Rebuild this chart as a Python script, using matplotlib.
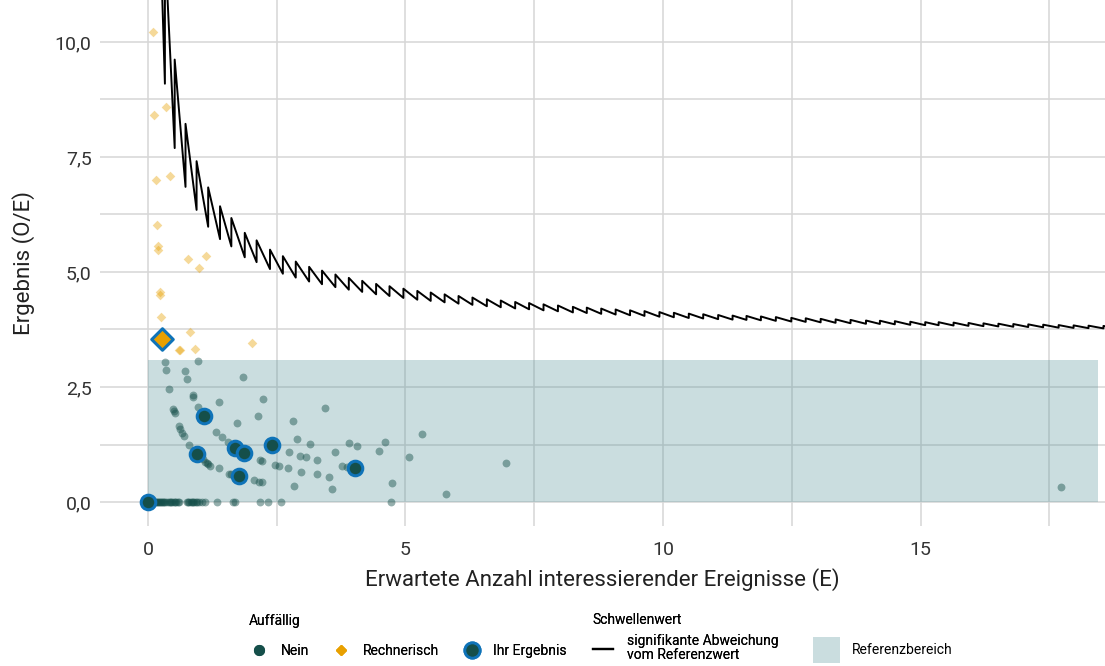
import numpy as np
import matplotlib
matplotlib.use("Agg")
import matplotlib.pyplot as plt
from matplotlib.lines import Line2D
from matplotlib.patches import Patch

plt.rcParams['font.family'] = ['Roboto', 'DejaVu Sans']

# --- data ---
# "Nein" points (E, O/E)
nein_E = [0.34, 0.36, 0.72, 0.98, 0.76, 0.41, 1.85, 0.87, 0.88, 1.38, 2.24, 0.97,
          0.49, 0.50, 0.52, 2.14, 1.73, 2.81, 3.44, 0.61, 0.63, 0.66, 0.70, 1.32,
          1.43, 1.55, 0.80, 2.90, 3.15, 3.91, 4.06, 4.60, 5.33, 4.48, 3.64, 2.74,
          2.95, 3.07, 3.28, 2.17, 2.22, 1.07, 1.11, 1.14, 1.17, 1.21, 1.38, 2.47,
          2.55, 2.71, 2.98, 3.29, 3.52, 3.77, 3.86, 5.06, 1.58, 1.62, 2.06, 2.16,
          2.22, 2.83, 3.58, 4.73, 5.78, 6.95, 17.73,
          0.05, 0.07, 0.10, 0.12, 0.13, 0.16, 0.18, 0.19, 0.22, 0.24, 0.25, 0.28,
          0.30, 0.31, 0.34, 0.37, 0.40, 0.43, 0.45, 0.47, 0.50, 0.52, 0.55, 0.58,
          0.60, 0.75, 0.78, 0.80, 0.83, 0.85, 0.88, 0.90, 0.93, 0.95, 1.00, 1.05,
          1.10, 1.35, 1.66, 1.69, 2.17, 2.34, 2.58, 4.72]
nein_OE = [3.04, 2.87, 2.85, 3.07, 2.67, 2.46, 2.71, 2.33, 2.29, 2.18, 2.23, 2.06,
           2.02, 1.98, 1.94, 1.87, 1.72, 1.77, 2.04, 1.66, 1.58, 1.50, 1.43, 1.53,
           1.41, 1.30, 1.24, 1.37, 1.26, 1.28, 1.22, 1.30, 1.49, 1.11, 1.09, 1.08,
           1.01, 0.97, 0.91, 0.91, 0.90, 0.93, 0.88, 0.84, 0.82, 0.79, 0.73, 0.80,
           0.78, 0.73, 0.66, 0.60, 0.55, 0.79, 0.77, 0.99, 0.62, 0.61, 0.48, 0.44,
           0.44, 0.35, 0.28, 0.42, 0.17, 0.85, 0.33,
           0, 0, 0, 0, 0, 0, 0, 0, 0, 0, 0, 0,
           0, 0, 0, 0, 0, 0, 0, 0, 0, 0, 0, 0,
           0, 0, 0, 0, 0, 0, 0, 0, 0, 0, 0, 0,
           0, 0, 0, 0, 0, 0, 0, 0]

# "Rechnerisch" points
rech_E = [0.10, 0.12, 0.36, 0.15, 0.43, 0.17, 0.19, 0.19, 0.77, 0.99, 1.13,
          0.23, 0.23, 0.25, 0.82, 2.03, 0.61, 0.62, 0.91]
rech_OE = [10.21, 8.41, 8.58, 6.99, 7.08, 6.02, 5.57, 5.48, 5.28, 5.09, 5.34,
           4.56, 4.49, 4.03, 3.70, 3.45, 3.30, 3.31, 3.32]

# "Ihr Ergebnis"
ihr_E = [0.0, 1.09, 0.96, 1.70, 1.86, 2.40, 1.77, 4.02]
ihr_OE = [0.0, 1.86, 1.04, 1.17, 1.07, 1.25, 0.57, 0.75]
ihr_rech_E = [0.28]
ihr_rech_OE = [3.54]

# threshold: expected E at each jump and critical count O after the jump
thr_E = [0.33, 0.52, 0.73, 0.945, 1.17, 1.40, 1.62, 1.88, 2.11, 2.37, 2.62, 2.87,
         3.13, 3.38, 3.64, 3.90, 4.16, 4.43, 4.69, 4.96, 5.23, 5.49, 5.76, 6.03,
         6.30, 6.58, 6.85, 7.13, 7.40, 7.68, 7.96, 8.25, 8.52, 8.80, 9.08, 9.36,
         9.64, 9.93, 10.21, 10.50, 10.78, 11.07, 11.35, 11.62, 11.90, 12.19, 12.49,
         12.77, 13.06, 13.35, 13.64, 13.94, 14.21, 14.50, 14.80, 15.09, 15.35,
         15.64, 15.93, 16.22, 16.51, 16.80, 17.09, 17.38, 17.68, 17.97, 18.26, 18.55]
thr_O = list(range(4, 4 + len(thr_E)))
thr_start_E = 0.25

ref_xmax = 18.45
ref_ymax = 3.09

col_dark = '#154f4a'
col_orange = '#e8a000'
col_blue = '#0f73b8'

# build the threshold polyline (vertices only)
line_x = [thr_start_E]
line_y = [(thr_O[0] - 1) / thr_start_E]
for e, o in zip(thr_E, thr_O):
    line_x += [e, e]
    line_y += [(o - 1) / e, o / e]
line_x.append(19.0)
line_y.append(thr_O[-1] / 19.0)

fig = plt.figure(figsize=(11.05, 6.66), dpi=100)
ax = fig.add_axes([100 / 1105, 1 - 526 / 666, 1005 / 1105, 526 / 666])

ax.fill_between([0, ref_xmax], 0, ref_ymax, color='#529198', alpha=0.3, lw=0, zorder=1)
ax.plot(line_x, line_y, color='black', lw=1.4, zorder=3)

ax.scatter(nein_E, nein_OE, s=32, color=col_dark, alpha=0.45, lw=0, zorder=4)
ax.scatter(rech_E, rech_OE, s=24, marker='D', color=col_orange, alpha=0.4, lw=0, zorder=4)
ax.scatter(ihr_E, ihr_OE, s=110, color=col_dark, edgecolor=col_blue, lw=2.2, zorder=5)
ax.scatter(ihr_rech_E, ihr_rech_OE, s=120, marker='D', color=col_orange,
           edgecolor=col_blue, lw=2.2, zorder=5)

ax.set_xlim(-0.93, 18.58)
ax.set_ylim(-0.52, 10.91)
ax.set_xticks([0, 5, 10, 15])
ax.set_xticks([2.5, 7.5, 12.5, 17.5], minor=True)
ax.set_yticks([0, 2.5, 5, 7.5, 10])
ax.set_yticks([1.25, 3.75, 6.25, 8.75], minor=True)
ax.set_yticklabels(['0,0', '2,5', '5,0', '7,5', '10,0'])
ax.grid(True, which='both', color='#d6d6d6', lw=1.1)
ax.set_axisbelow(True)
ax.tick_params(which='both', length=0, labelsize=14, colors='#333333', pad=6)
ax.tick_params(axis='x', pad=11)
for s in ax.spines.values():
    s.set_visible(False)

ax.set_xlabel('Erwartete Anzahl interessierender Ereignisse (E)', fontsize=16,
              color='#222222', labelpad=6)
ax.set_ylabel('Ergebnis (O/E)', fontsize=16, color='#222222', labelpad=14)

# legends
h1 = [Line2D([], [], ls='', marker='o', ms=7, color=col_dark),
      Line2D([], [], ls='', marker='D', ms=5, color=col_orange),
      Line2D([], [], ls='', marker='o', ms=11, color=col_dark, mec=col_blue, mew=2)]
leg1 = fig.legend(h1, ['Nein', 'Rechnerisch', 'Ihr Ergebnis'], title='Auffällig',
                  ncol=3, loc='upper left', bbox_to_anchor=(236 / 1105, 1 - 601 / 666),
                  frameon=False, fontsize=10, title_fontsize=10, handlelength=1.5,
                  columnspacing=1.6, handletextpad=0.8, labelspacing=1.2,
                  alignment='left')
fig.add_artist(leg1)
h2 = [Line2D([], [], color='black', lw=1.6)]
leg2 = fig.legend(h2, ['signifikante Abweichung\nvom Referenzwert'], title='Schwellenwert',
                  loc='upper left', bbox_to_anchor=(580 / 1105, 1 - 601 / 666),
                  frameon=False, fontsize=10, title_fontsize=10, handlelength=1.5,
                  handletextpad=1.0, labelspacing=0.5, alignment='left')
for t in leg2.get_texts():
    t.set_linespacing(1.0)
fig.add_artist(leg2)
h3 = [Patch(color='#529198', alpha=0.3, lw=0)]
fig.legend(h3, ['Referenzbereich'], loc='upper left',
           bbox_to_anchor=(800 / 1105, 1 - 624 / 666), frameon=False, fontsize=10,
           handlelength=2.0, handleheight=2.6, handletextpad=0.8)

fig.savefig('out.png', dpi=100)
